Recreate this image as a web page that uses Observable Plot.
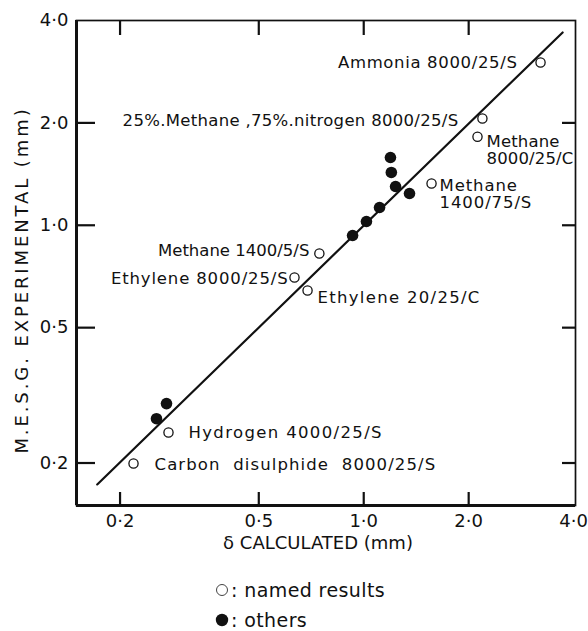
<!DOCTYPE html>
<html>
<head>
<meta charset="utf-8">
<script src="https://cdn.jsdelivr.net/npm/d3@7"></script>
<script src="https://cdn.jsdelivr.net/npm/@observablehq/plot@0.6"></script>
<style>
  body { margin: 0; background: #fff; font-family: "DejaVu Sans", sans-serif; color: #111; }
  #chart svg { display: block; }
  #legend { padding-left: 215px; padding-top: 5px; font-size: 19px; letter-spacing: 0.4px; line-height: 1; }
  #legend .row { height: 30px; display: flex; align-items: center; }
  #legend svg { margin-right: 2px; }
</style>
</head>
<body>
<div id="chart"></div>
<div id="legend">
  <div class="row"><svg width="14" height="14"><circle cx="7" cy="7" r="5.5" fill="white" stroke="#444" stroke-width="1"></circle></svg><span>: named results</span></div>
  <div class="row"><svg width="14" height="14"><circle cx="7" cy="7" r="6.2" fill="#111"></circle></svg><span>: others</span></div>
</div>
<script>
// ---- data ----
const namedLabels = [
  "Ammonia 8000/25/S",
  "25%.Methane ,75%.nitrogen 8000/25/S",
  "Methane\n8000/25/C",
  "Methane\n1400/75/S",
  "Methane 1400/5/S",
  "Ethylene 8000/25/S",
  "Ethylene 20/25/C",
  "Hydrogen 4000/25/S",
  "Carbon  disulphide  8000/25/S"
];
const namedX = [3.215, 2.19, 2.12, 1.565, 0.746, 0.633, 0.690, 0.2754, 0.2186];
const namedY = [3.01, 2.06, 1.82, 1.327, 0.826, 0.702, 0.643, 0.246, 0.1993];

const otherX = [1.193, 1.20, 1.234, 1.353, 1.11, 1.018, 0.929, 0.2718, 0.2544];
const otherY = [1.582, 1.43, 1.30, 1.24, 1.128, 1.026, 0.933, 0.299, 0.270];

const fitX = [0.172, 3.72];
const fitY = [0.173, 3.69];

const tickValues = [0.2, 0.5, 1, 2];
const labelValues = [0.2, 0.5, 1, 2, 4];
const tickLabels = ["0·2", "0·5", "1·0", "2·0", "4·0"];

const xTitle = "δ CALCULATED (mm)";
const yTitle = "M.E.S.G. EXPERIMENTAL (mm)";

// ---- build tables ----
const named = namedLabels.map((label, i) => ({label, x: namedX[i], y: namedY[i]}));
const others = otherX.map((x, i) => ({x, y: otherY[i]}));
const fit = fitX.map((x, i) => ({x, y: fitY[i]}));
const fmt = d => tickLabels[labelValues.indexOf(d)];

// ---- layout / style ----
const W = 588, H = 570, mL = 76, mR = 13, mT = 20, mB = 65;
const xDomain = [0.15, 4.05], yDomain = [0.15, 4.0];
const fw = W - mL - mR, fh = H - mT - mB;   // 499 x 485
const tickColor = "#111";

const labelStyle = [
  {dx: -23, dy: 0, textAnchor: "end", spacing: 0.65},
  {dx: -24, dy: 2, textAnchor: "end", spacing: 0.3},
  {dx: 9, dy: 13, textAnchor: "start", spacing: 0.15},
  {dx: 8, dy: 11, textAnchor: "start", spacing: 0.9},
  {dx: -10, dy: -3, textAnchor: "end", spacing: 0},
  {dx: -6, dy: 1, textAnchor: "end", spacing: 0.85},
  {dx: 10, dy: 7, textAnchor: "start", spacing: 1.3},
  {dx: 20, dy: 0, textAnchor: "start", spacing: 1.35},
  {dx: 21, dy: 1, textAnchor: "start", spacing: 1.1}
];
const labelMarks = named.map((d, i) => {
  const {spacing, ...pos} = labelStyle[i];
  return Plot.text([d], {
    x: "x", y: "y", text: "label", fontSize: 16.5, lineAnchor: "middle", lineHeight: 1.03,
    fill: "#111", ...pos
  });
});

const chart = Plot.plot({
  width: W, height: H,
  marginLeft: mL, marginRight: mR, marginTop: mT, marginBottom: mB,
  style: {fontFamily: "DejaVu Sans, sans-serif", background: "white"},
  x: {type: "log", domain: xDomain},
  y: {type: "log", domain: yDomain},
  marks: [
    Plot.frame({stroke: "#111", strokeWidth: 1.7}),
    Plot.ruleX([xDomain[0]], {stroke: "#111", strokeWidth: 3}),
    Plot.ruleY([yDomain[0]], {stroke: "#111", strokeWidth: 3}),
    Plot.tickX(tickValues, {x: d => d, insetTop: fh - 13, stroke: tickColor, strokeWidth: 2.2}),
    Plot.tickX(tickValues, {x: d => d, insetBottom: fh - 15, stroke: tickColor, strokeWidth: 2.2}),
    Plot.tickY(tickValues, {y: d => d, insetRight: fw - 19, stroke: tickColor, strokeWidth: 2.2}),
    Plot.tickY(tickValues, {y: d => d, insetLeft: fw - 13, stroke: tickColor, strokeWidth: 2.2}),
    Plot.axisX(labelValues, {anchor: "bottom", tickSize: 0, tickPadding: 9, tickFormat: fmt, fontSize: 18, label: null}),
    Plot.axisY(labelValues, {anchor: "left", tickSize: 0, tickPadding: 8, tickFormat: fmt, fontSize: 18, label: null}),
    Plot.text([xTitle], {frameAnchor: "bottom", textAnchor: "middle", dx: -8, dy: 38, fontSize: 18, lineAnchor: "middle", fill: "#111"}),
    Plot.text([yTitle], {frameAnchor: "left", textAnchor: "middle", rotate: -90, dx: -54, dy: 17, fontSize: 18, lineAnchor: "middle", fill: "#111"}),
    Plot.line(fit, {x: "x", y: "y", stroke: "#111", strokeWidth: 2.2}),
    Plot.dot(others, {x: "x", y: "y", r: 5.8, fill: "#111"}),
    Plot.dot(named, {x: "x", y: "y", r: 4.6, fill: "white", stroke: "#111", strokeWidth: 1.3}),
    ...labelMarks
  ]
});

const texts = d3.select(chart).selectAll("text");
const spaceText = (content, px, pre) => texts
  .filter(function() { return this.textContent === content; })
  .attr("letter-spacing", px + "px")
  .style("white-space", pre ? "pre" : null);
spaceText(yTitle, 2.9);
namedLabels.forEach((label, i) => spaceText(label.replace(/\n/g, ""), labelStyle[i].spacing, true));

document.getElementById("chart").appendChild(chart);
</script>
</body>
</html>
